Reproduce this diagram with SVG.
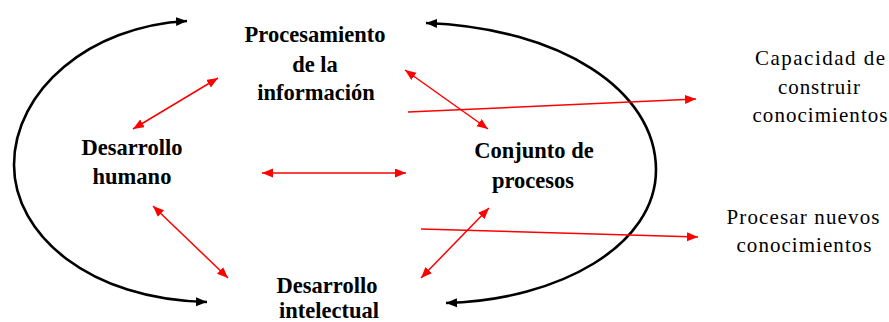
<svg xmlns="http://www.w3.org/2000/svg" width="889" height="322" viewBox="0 0 889 322">
<style>
.b{font-family:"Liberation Serif","Times New Roman",serif;font-weight:bold;font-size:22.5px;fill:#000;text-anchor:middle}
.n{font-family:"Liberation Serif","Times New Roman",serif;font-size:21px;fill:#000;text-anchor:middle}
.arc{fill:none;stroke:#000;stroke-width:2.6;marker-start:url(#ka);marker-end:url(#ka)}
.r{fill:none;stroke:#ff0000;stroke-width:1.5}
.rd{marker-start:url(#ra);marker-end:url(#ra)}
.rs{marker-end:url(#ra)}
</style>
<defs>
<marker id="ka" markerUnits="userSpaceOnUse" markerWidth="12" markerHeight="10" refX="11" refY="5" orient="auto-start-reverse"><path d="M0,0.5 L11,5 L0,9.5 z" fill="#000"/></marker>
<marker id="ra" markerUnits="userSpaceOnUse" markerWidth="12" markerHeight="10" refX="11" refY="4.5" orient="auto-start-reverse"><path d="M0,0 L11,4.5 L0,9 z" fill="#ff0000"/></marker>
</defs>
<rect width="889" height="322" fill="#fff"/>
<g id="connectors">
<path class="arc" d="M 187,21 C 90,26 14,90 14,165 C 14,235 90,300 207,302"/>
<path class="arc" d="M 426,23 C 560,28 656,90 656,170 C 656,245 560,300 446,303"/>
<line class="r rd" x1="133" y1="129" x2="218" y2="78"/>
<line class="r rd" x1="262" y1="173" x2="406" y2="173"/>
<line class="r rd" x1="153" y1="206" x2="228" y2="278"/>
<line class="r rd" x1="405" y1="70" x2="488" y2="129"/>
<line class="r rs" x1="408" y1="112" x2="696" y2="99"/>
<line class="r rd" x1="489" y1="208" x2="421" y2="278"/>
<line class="r rs" x1="421" y1="229" x2="698" y2="237"/>
</g>
<g id="procesamiento">
<text class="b" x="315" y="42">Procesamiento</text>
<text class="b" x="315" y="72">de la</text>
<text class="b" x="316" y="100">información</text>
</g>
<g id="desarrollo-humano">
<text class="b" x="132" y="155">Desarrollo</text>
<text class="b" x="132" y="184">humano</text>
</g>
<g id="conjunto">
<text class="b" x="534" y="158">Conjunto de</text>
<text class="b" x="533" y="188">procesos</text>
</g>
<g id="desarrollo-intelectual">
<text class="b" x="327" y="293">Desarrollo</text>
<text class="b" x="329" y="318">intelectual</text>
</g>
<g id="capacidad">
<text class="n" x="820" y="65" textLength="130" lengthAdjust="spacing">Capacidad de</text>
<text class="n" x="819" y="94" textLength="82" lengthAdjust="spacing">construir</text>
<text class="n" x="820" y="122" textLength="135" lengthAdjust="spacing">conocimientos</text>
</g>
<g id="procesar">
<text class="n" x="803" y="224" textLength="153" lengthAdjust="spacing">Procesar nuevos</text>
<text class="n" x="804" y="252" textLength="135" lengthAdjust="spacing">conocimientos</text>
</g>
</svg>
